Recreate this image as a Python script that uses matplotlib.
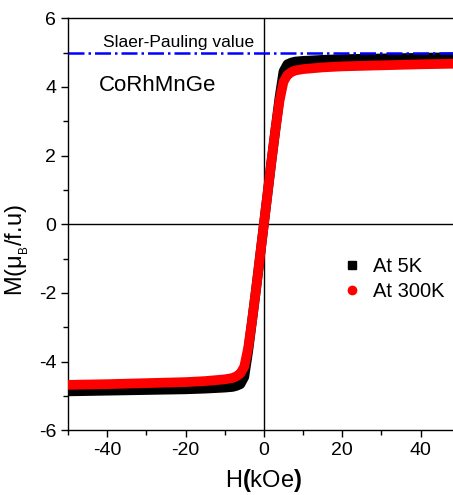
import matplotlib
matplotlib.use("Agg")
import matplotlib.pyplot as plt
from matplotlib.lines import Line2D

plt.rcParams.update({
    "font.family": ["Liberation Sans", "DejaVu Sans"],
    "mathtext.fontset": "custom",
    "mathtext.rm": "Liberation Sans",
    "mathtext.it": "Liberation Sans:italic",
    "mathtext.bf": "Liberation Sans:bold",
    "axes.unicode_minus": False,
    "xtick.direction": "out",
    "ytick.direction": "out",
})

# field (kOe), positive branch; negative branch is mirrored
H_POS = [0, 1, 2, 3, 4, 5, 6, 7, 8, 10, 15, 20, 30, 40, 50]
M_5K_POS = [0.0, 0.95, 1.9, 2.8, 3.7, 4.45, 4.66, 4.71, 4.74, 4.76, 4.79, 4.81, 4.83, 4.85, 4.87]
M_300K_POS = [0.0, 0.95, 1.9, 2.8, 3.6, 4.15, 4.35, 4.43, 4.48, 4.52, 4.57, 4.60, 4.63, 4.66, 4.68]

H = [-h for h in H_POS[::-1]] + H_POS[1:]
M_5K = [-m for m in M_5K_POS[::-1]] + M_5K_POS[1:]
M_300K = [-m for m in M_300K_POS[::-1]] + M_300K_POS[1:]

SP_VALUE = 5.0

fig = plt.figure(figsize=(4.53, 4.95), dpi=100)
ax = fig.add_axes([0.150, 0.131, 0.865, 0.832])

ax.plot(H, M_5K, color="black", linewidth=7, solid_joinstyle="round", zorder=2)
ax.plot(H, M_300K, color="red", linewidth=7, solid_joinstyle="round", zorder=3)
ax.axhline(SP_VALUE, color="blue", linestyle="-.", linewidth=1.8, zorder=4)
ax.axhline(0, color="black", linewidth=1.0, zorder=1)
ax.axvline(0, color="black", linewidth=1.0, zorder=1)

ax.text(-41, 5.08, "Slaer-Pauling value", fontsize=12.5, ha="left", va="bottom")
ax.text(-42, 4.05, "CoRhMnGe", fontsize=16, ha="left", va="center")

ax.set_xlim(-50, 50)
ax.set_ylim(-6, 6)
ax.set_xticks([-40, -20, 0, 20, 40])
ax.set_xticks([-50, -30, -10, 10, 30, 50], minor=True)
ax.set_yticks([-6, -4, -2, 0, 2, 4, 6])
ax.set_yticks([-5, -3, -1, 1, 3, 5], minor=True)
ax.tick_params(which="major", length=5, width=1, labelsize=14)
ax.tick_params(which="minor", length=3.5, width=1)
ax.spines["right"].set_visible(False)
for s in ["left", "bottom", "top"]:
    ax.spines[s].set_linewidth(1.0)

ax.set_xlabel(r"H$\mathbf{(}$kOe$\mathbf{)}$", fontsize=17)
ax.xaxis.set_label_coords(0.5, -0.09)
ax.set_ylabel(r"M(μ$_{_{\mathrm{B}}}$/f.u)", fontsize=17)
ax.yaxis.set_label_coords(-0.095, 0.437)

handles = [
    Line2D([], [], color="black", marker="s", linestyle="none", markersize=6),
    Line2D([], [], color="red", marker="o", linestyle="none", markersize=6),
]
ax.legend(handles, ["At 5K", "At 300K"], loc="upper left", bbox_to_anchor=(0.64, 0.465),
          frameon=False, fontsize=14.5, handletextpad=0.3, labelspacing=0.3, handlelength=1.5)

fig.savefig("out.png", dpi=100)
